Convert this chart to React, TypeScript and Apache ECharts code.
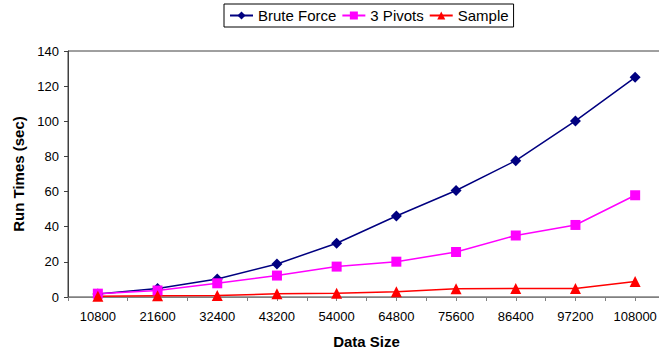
import React, { useEffect, useRef } from "react";
import * as echarts from "echarts";

const categories = ["10800", "21600", "32400", "43200", "54000", "64800", "75600", "86400", "97200", "108000"];
const bruteForce = [1.7, 4.8, 10.2, 18.8, 30.6, 46.1, 60.6, 77.6, 100.2, 125.0];
const threePivots = [1.9, 3.7, 7.8, 12.2, 17.3, 20.1, 25.6, 35.0, 41.0, 57.9];
const sample = [0.4, 0.7, 0.9, 1.8, 2.2, 3.0, 4.7, 4.9, 4.9, 8.8];
const yTicks = { min: 0, max: 140, interval: 20 };

const FONT = "'Liberation Sans', Arial, sans-serif";

export default function App() {
  const ref = useRef<HTMLDivElement>(null);
  useEffect(() => {
    if (!ref.current) return;
    const chart = echarts.init(ref.current, undefined, { renderer: "svg" });
    chart.setOption({
      animation: false,
      backgroundColor: "#ffffff",
      textStyle: { fontFamily: FONT },
      legend: {
        left: 224,
        top: 4,
        orient: "horizontal",
        borderColor: "#000000",
        borderWidth: 1,
        padding: [4, 5, 4, 5],
        itemGap: 5,
        itemWidth: 23,
        itemHeight: 10,
        textStyle: { fontFamily: FONT, fontSize: 15, color: "#000000" },
        data: ["Brute Force", "3 Pivots", "Sample"],
      },
      grid: {
        left: 68,
        top: 51,
        bottom: 54,
        right: 0,
        show: true,
        borderColor: "#404040",
        borderWidth: 1,
        containLabel: false,
      },
      xAxis: [
        {
          type: "category",
          data: categories,
          boundaryGap: true,
          name: "Data Size",
          nameLocation: "middle",
          nameGap: 37,
          nameTextStyle: { fontFamily: FONT, fontSize: 15, fontWeight: "bold", color: "#000000" },
          axisLine: { show: true, lineStyle: { color: "#808080", width: 1 } },
          axisTick: { show: true, length: 4, inside: false, alignWithLabel: false, lineStyle: { color: "#808080" } },
          axisLabel: { fontFamily: FONT, fontSize: 13, color: "#000000", margin: 13, interval: 0 },
          splitLine: { show: false },
        },
        {
          type: "category",
          data: categories,
          boundaryGap: true,
          position: "bottom",
          axisLine: { show: false },
          axisTick: { show: true, length: 4, inside: false, alignWithLabel: true, lineStyle: { color: "#808080" } },
          axisLabel: { show: false },
          splitLine: { show: false },
        },
      ],
      yAxis: {
        type: "value",
        min: yTicks.min,
        max: yTicks.max,
        interval: yTicks.interval,
        name: "Run Times (sec)",
        nameLocation: "middle",
        nameGap: 39,
        nameTextStyle: { fontFamily: FONT, fontSize: 15, fontWeight: "bold", color: "#000000" },
        axisLine: { show: true, lineStyle: { color: "#404040", width: 1 } },
        axisTick: { show: true, length: 4, inside: false, lineStyle: { color: "#404040" } },
        axisLabel: { fontFamily: FONT, fontSize: 13, color: "#000000", margin: 9 },
        splitLine: { show: false },
      },
      series: [
        {
          name: "Brute Force",
          type: "line",
          data: bruteForce,
          symbol: "diamond",
          symbolSize: 11,
          itemStyle: { color: "#000080" },
          lineStyle: { color: "#000080", width: 1.5 },
        },
        {
          name: "3 Pivots",
          type: "line",
          data: threePivots,
          symbol: "rect",
          symbolSize: 10,
          itemStyle: { color: "#FF00FF" },
          lineStyle: { color: "#FF00FF", width: 1.5 },
        },
        {
          name: "Sample",
          type: "line",
          data: sample,
          symbol: "triangle",
          symbolSize: 11,
          itemStyle: { color: "#FF0000" },
          lineStyle: { color: "#FF0000", width: 1.5 },
        },
      ],
    });
    return () => chart.dispose();
  }, []);
  return (
    <div style={{ position: "absolute", left: 0, top: 0, width: 659, height: 354, overflow: "hidden" }}>
      <div ref={ref} style={{ width: 665, height: 354 }} />
    </div>
  );
}
